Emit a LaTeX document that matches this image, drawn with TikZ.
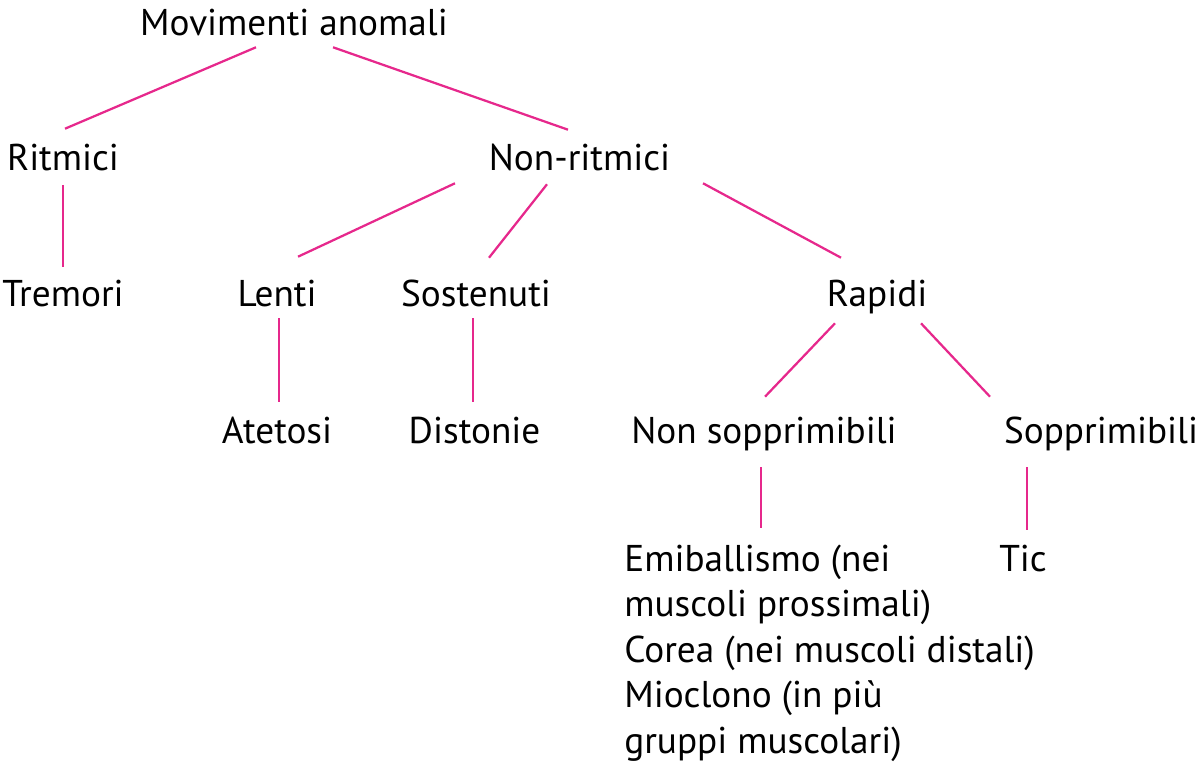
\documentclass[tikz,border=0pt]{standalone}
\usepackage{fontspec}
\setmainfont{PT Sans}
\usetikzlibrary{positioning,calc}
\definecolor{linkpink}{RGB}{230,40,140}

\begin{document}
\begin{tikzpicture}[
  x=0.025cm, y=-0.025cm,
  item/.style={inner sep=0pt, anchor=base, font=\fontsize{26.5}{32.3}\selectfont, text height=0.65cm, text depth=0pt},
  block/.style={inner sep=0pt, anchor=base west, align=left, font=\fontsize{26.5}{32.3}\selectfont},
  link/.style={draw=linkpink, line width=1.6pt}
]
  \useasboundingbox (0,0) rectangle (1200,766);
  % Level 1: root
  \node[item] (mov) at (294,36) {Movimenti anomali};
  % Level 2
  \node[item] (rit) at (63,171) {Ritmici};
  \node[item] (nonrit) at (579.5,171) {Non-ritmici};
  % Level 3
  \node[item] (trem) at (63,307) {Tremori};
  \node[item] (lenti) at (277,307) {Lenti};
  \node[item] (sost) at (476,307) {Sostenuti};
  \node[item] (rapidi) at (877,307) {Rapidi};
  % Level 4
  \node[item] (atet) at (277,443) {Atetosi};
  \node[item] (dist) at (474.5,443) {Distonie};
  \node[item] (nonsopp) at (764,443) {Non sopprimibili};
  \node[item] (sopp) at (1101,443) {Sopprimibili};
  % Level 5 (base = last line)
  \node[block] (emib) at (624,753) {Emiballismo (nei\\muscoli prossimali)\\Corea (nei muscoli distali)\\Mioclono (in più\\gruppi muscolari)};
  \node[item] (tic) at (1023,571) {Tic};
  % Links
  \draw[link] ($(mov.south)+(-38,11)$) -- ($(rit.north)+(2,-16)$);
  \draw[link] ($(mov.south)+(39,11)$) -- ($(nonrit.north)+(-11.5,-15)$);
  \draw[link] ($(rit.south)+(0,14)$) -- ($(trem.north)+(0,-14)$);
  \draw[link] ($(nonrit.south)+(-124.5,12)$) -- ($(lenti.north)+(21,-24)$);
  \draw[link] ($(nonrit.south)+(-32.5,13)$) -- ($(sost.north)+(13,-23)$);
  \draw[link] ($(nonrit.south)+(123.5,12)$) -- ($(rapidi.north)+(-36,-23)$);
  \draw[link] ($(lenti.south)+(2,11)$) -- ($(atet.north)+(2,-15)$);
  \draw[link] ($(sost.south)+(-3,11)$) -- ($(dist.north)+(-1.5,-15)$);
  \draw[link] ($(rapidi.south)+(-42,16)$) -- ($(nonsopp.north)+(1,-20)$);
  \draw[link] ($(rapidi.south)+(44,16)$) -- ($(sopp.north)+(-111,-20)$);
  \draw[link] ($(nonsopp.south)+(-3,24)$) -- ($(emib.base west)+(137,-225)$);
  \draw[link] ($(sopp.south)+(-74,24)$) -- ($(tic.north)+(4,-15)$);
\end{tikzpicture}
\end{document}
